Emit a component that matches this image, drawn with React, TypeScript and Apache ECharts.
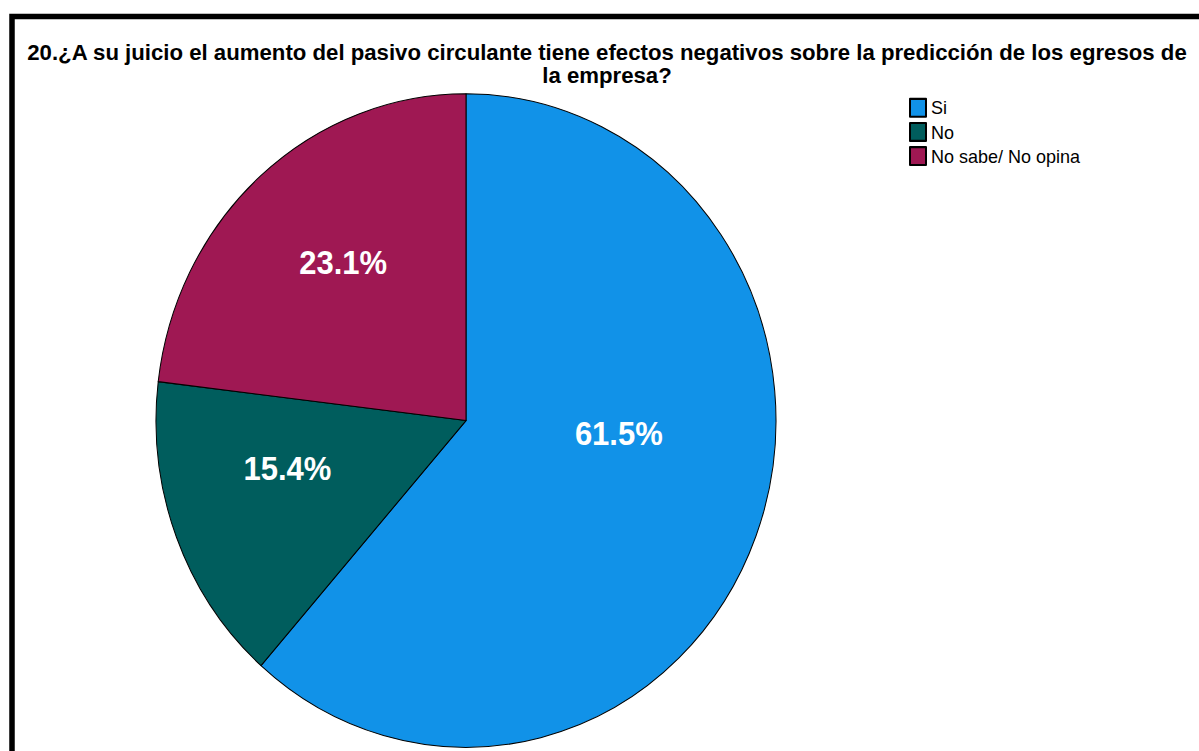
import React, { useEffect, useRef } from "react";
import * as echarts from "echarts";

// ---- data ----
const TITLE_LINES = [
  "20.¿A su juicio el aumento del pasivo circulante tiene efectos negativos sobre la predicción de los egresos de",
  "la empresa?",
];
const CATEGORIES = ["Si", "No", "No sabe/ No opina"];
const PERCENTS = [61.5, 15.4, 23.1];

// ---- style ----
const COLORS = ["#1192e8", "#005d5d", "#9f1853"];
const FONT = "'Liberation Sans', Arial, Helvetica, sans-serif";
const W = 1199;
const H = 751;
const SY = 1.054; // the reference pie is slightly taller than wide
const LABEL_NUDGE: [number, number][] = [
  [5, -43],
  [-31, -11],
  [-18, -32],
];

export default function App() {
  const frameRef = useRef<HTMLDivElement>(null);
  const pieRef = useRef<HTMLDivElement>(null);

  useEffect(() => {
    const a = echarts.init(frameRef.current!, null, { renderer: "svg" });
    a.setOption({
      animation: false,
      backgroundColor: "#ffffff",
      title: {
        text: TITLE_LINES.join("\n"),
        left: 607,
        top: 41,
        padding: 0,
        textAlign: "center",
        textVerticalAlign: "top",
        textStyle: {
          fontFamily: FONT,
          fontSize: 22.2,
          fontWeight: "bold",
          color: "#000",
          lineHeight: 23,
        },
      },
      graphic: [
        {
          type: "rect",
          silent: true,
          shape: { x: 12, y: 16.5, width: 1400, height: 1000 },
          style: { fill: "none", stroke: "#000", lineWidth: 5.5 },
        },
      ],
    });

    const b = echarts.init(pieRef.current!, null, { renderer: "svg" });
    b.setOption({
      animation: false,
      backgroundColor: "transparent",
      legend: {
        orient: "vertical",
        left: 909,
        top: 92.8,
        padding: 0,
        itemWidth: 16,
        itemHeight: 17,
        itemGap: 3.9,
        icon: "rect",
        selectedMode: false,
        data: CATEGORIES,
        textStyle: { fontFamily: FONT, fontSize: 18, color: "#000", lineHeight: 17 },
      },
      series: [
        {
          type: "pie",
          center: [466, 399],
          radius: 310,
          startAngle: 90,
          clockwise: true,
          silent: true,
          emphasis: { disabled: true },
          itemStyle: { borderColor: "#000", borderWidth: 1 },
          label: {
            show: true,
            position: "inside",
            formatter: (p: any) => `${Number(p.value).toFixed(1)}%`,
            color: "#fff",
            fontFamily: FONT,
            fontSize: 31,
            fontWeight: "bold",
          },
          labelLine: { show: false },
          labelLayout: (p: any) => ({
            dx: LABEL_NUDGE[p.dataIndex][0],
            dy: LABEL_NUDGE[p.dataIndex][1],
            fontSize: 31,
          }),
          data: CATEGORIES.map((name, i) => ({
            name,
            value: PERCENTS[i],
            itemStyle: { color: COLORS[i] },
          })),
        },
      ],
    });

    return () => {
      a.dispose();
      b.dispose();
    };
  }, []);

  return (
    <div
      style={{
        position: "fixed",
        left: 0,
        top: 0,
        width: W,
        height: H,
        overflow: "hidden",
        background: "#fff",
      }}
    >
      <div ref={frameRef} style={{ position: "absolute", left: 0, top: 0, width: W, height: H }} />
      <div
        ref={pieRef}
        style={{
          position: "absolute",
          left: 0,
          top: 0,
          width: W,
          height: H / SY,
          transform: `scaleY(${SY})`,
          transformOrigin: "0 0",
        }}
      />
    </div>
  );
}
